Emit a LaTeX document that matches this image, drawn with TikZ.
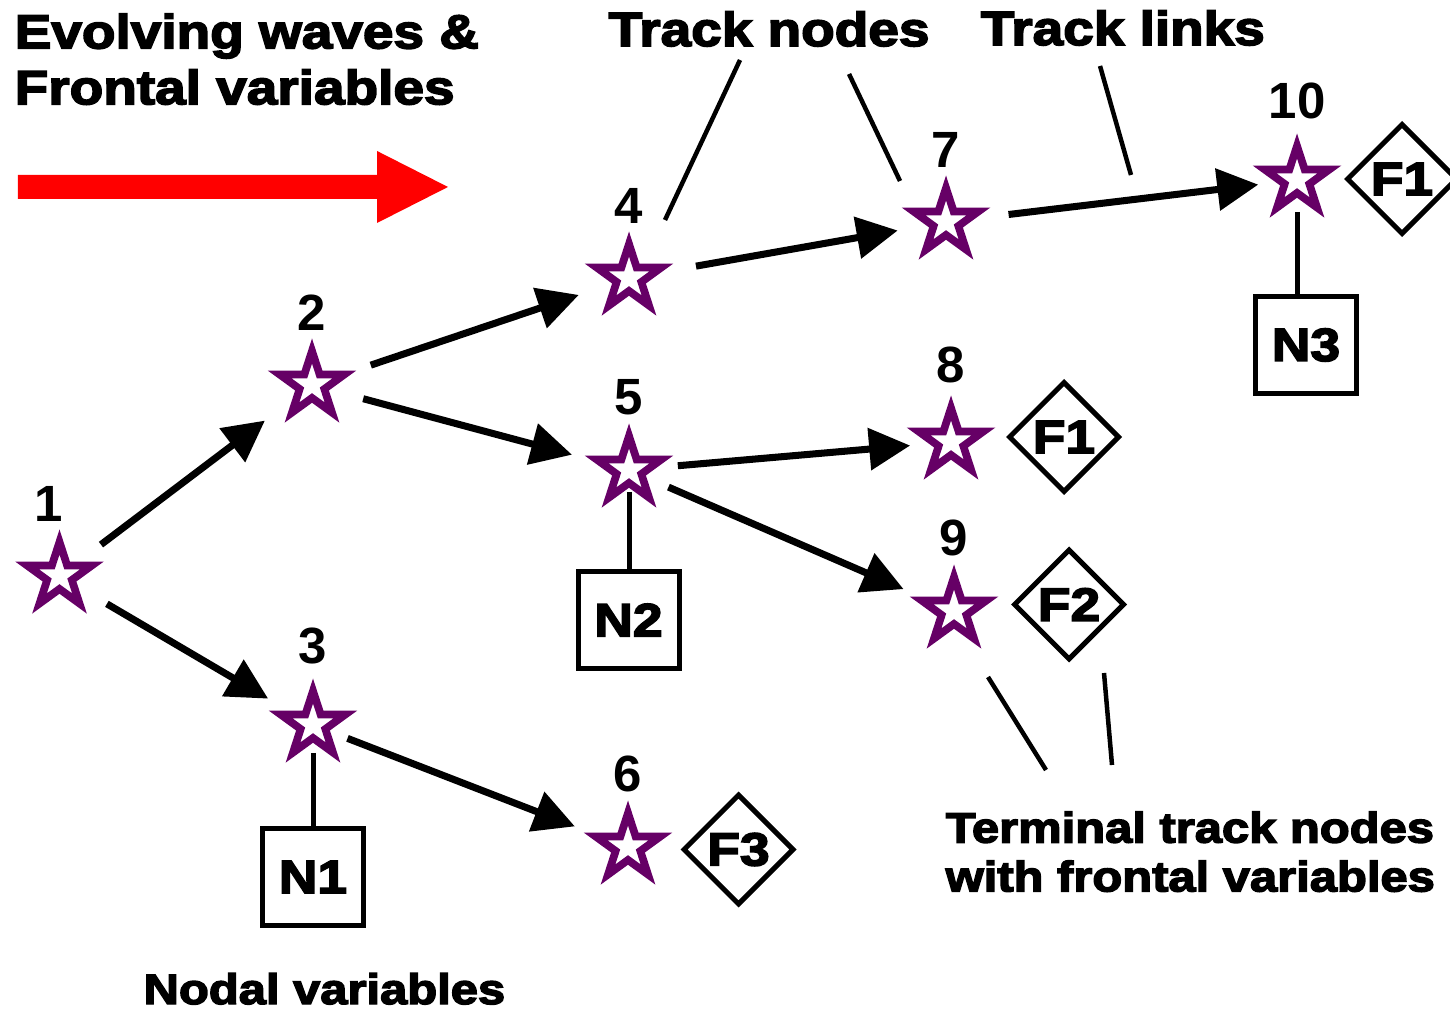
\documentclass[tikz,border=0pt]{standalone}
\usepackage{fontspec}
\setmainfont{Liberation Sans}
\newfontfamily\heavyfont{Liberation Sans Bold}[FakeStretch=1.15,FakeBold=3.5]
\usetikzlibrary{arrows.meta,shapes.geometric}
\definecolor{starpurple}{RGB}{102,0,102}

\begin{document}
\begin{tikzpicture}[>={Triangle[length=0.41cm,width=0.41cm]},line cap=butt,
  trk/.style={star,star points=5,star point ratio=2.618,minimum size=0.68cm,inner sep=0pt,outer sep=0pt,
    draw=starpurple,line width=2.2pt,fill=white},
  num/.style={font=\fontsize{14.5}{16}\selectfont\bfseries,inner sep=0pt,label distance=0.2cm},
  nbox/.style={draw,line width=1.42pt,minimum width=1.01cm,minimum height=0.97cm,inner sep=0pt,
    font=\fontsize{13.2}{14}\selectfont\heavyfont},
  fbox/.style={diamond,draw,line width=1.42pt,minimum size=1.11cm,inner sep=0pt,
    font=\fontsize{13.2}{14}\selectfont\heavyfont},
  link/.style={->,line width=2pt},
  stem/.style={line width=1.42pt},
  callout/.style={line width=1.28pt},
  caption/.style={inner sep=0pt,align=left,font=\fontsize{13.6}{15.9}\selectfont\heavyfont},
  note/.style={inner sep=0pt,align=left,font=\fontsize{12.1}{13.9}\selectfont\heavyfont}]
\useasboundingbox (0,0) rectangle (14.5,10.08);

% headings
\node[caption,anchor=north west] (waves) at (0.14,9.95) {Evolving waves \&\\Frontal variables};
\node[caption,anchor=base west] (tracknodes) at (6.08,9.62) {Track nodes};
\node[caption,anchor=base west] (tracklinks) at (9.80,9.63) {Track links};
\node[note,anchor=north west] (terminal) at (9.45,1.97) {Terminal track nodes\\with frontal variables};
\node[note,anchor=base west] (nodal) at (1.43,0.04) {Nodal variables};

% direction of the evolving waves
\fill[red] (0.18,8.09) -- (3.77,8.09) -- (3.77,7.85) -- (4.48,8.21) -- (3.77,8.57) -- (3.77,8.33) -- (0.18,8.33) -- cycle;

% track nodes
\node[trk,label={[num,xshift=-0.11cm]above:1}] (s1) at (0.595,4.32) {};
\node[trk,label={[num]above:2}] (s2) at (3.12,6.23) {};
\node[trk,label={[num,label distance=0.26cm]above:3}] (s3) at (3.13,2.83) {};
\node[trk,label={[num]above:4}] (s4) at (6.29,7.30) {};
\node[trk,label={[num]above:5}] (s5) at (6.29,5.38) {};
\node[trk,label={[num]above:6}] (s6) at (6.28,1.61) {};
\node[trk,label={[num]above:7}] (s7) at (9.46,7.86) {};
\node[trk,label={[num,label distance=0.24cm]above:8}] (s8) at (9.51,5.66) {};
\node[trk,label={[num]above:9}] (s9) at (9.54,3.97) {};
\node[trk,label={[num,label distance=0.26cm]above:10}] (s10) at (12.97,8.28) {};

% nodal variables
\node[nbox] (n1) at (3.13,1.31) {N1};
\node[nbox] (n2) at (6.285,3.88) {N2};
\node[nbox] (n3) at (13.06,6.63) {N3};

% frontal variables
\node[fbox] (f8) at (10.64,5.71) {F1};
\node[fbox] (f9) at (10.69,4.035) {F2};
\node[fbox] (f6) at (7.385,1.585) {F3};
\node[fbox] (f10) at (14.02,8.29) {F1};

% track links
\draw[link,shorten <=0.52cm,shorten >=0.59cm] (s1.center) -- (s2.center);
\draw[link,shorten <=0.55cm,shorten >=0.52cm] (s1.center) -- (s3.center);
\draw[link,shorten <=0.62cm,shorten >=0.53cm] (s2.center) -- (s4.center);
\draw[link,shorten <=0.53cm,shorten >=0.59cm] (s2.center) -- (s5.center);
\draw[link,shorten <=0.68cm,shorten >=0.49cm] (s4.center) -- (s7.center);
\draw[link,shorten <=0.49cm,shorten >=0.41cm] (s5.center) -- (s8.center);
\draw[link,shorten <=0.43cm,shorten >=0.55cm] (s5.center) -- (s9.center);
\draw[link,shorten <=0.37cm,shorten >=0.57cm] (s3.center) -- (s6.center);
\draw[link,shorten <=0.63cm,shorten >=0.39cm] (s7.center) -- (s10.center);

% stems to the nodal boxes
\draw[stem,shorten <=0.28cm] (s3.center) -- (s3.center |- n1.north);
\draw[stem,shorten <=0.22cm] (s5.center) -- (s5.center |- n2.north);
\draw[stem,shorten <=0.32cm] (s10.center) -- (s10.center |- n3.north);

% pointers from the headings
\coordinate (tn1-a) at (7.40,9.48);
\coordinate (tn1-b) at (6.65,7.88);
\coordinate (tn2-a) at (8.49,9.34);
\coordinate (tn2-b) at (9.00,8.27);
\coordinate (tl-a) at (11.00,9.42);
\coordinate (tl-b) at (11.31,8.33);
\coordinate (tt1-a) at (9.88,3.31);
\coordinate (tt1-b) at (10.46,2.38);
\coordinate (tt2-a) at (11.04,3.35);
\coordinate (tt2-b) at (11.12,2.43);
\draw[callout] (tn1-a) -- (tn1-b);
\draw[callout] (tn2-a) -- (tn2-b);
\draw[callout] (tl-a) -- (tl-b);
\draw[callout] (tt1-a) -- (tt1-b);
\draw[callout] (tt2-a) -- (tt2-b);
\end{tikzpicture}
\end{document}
